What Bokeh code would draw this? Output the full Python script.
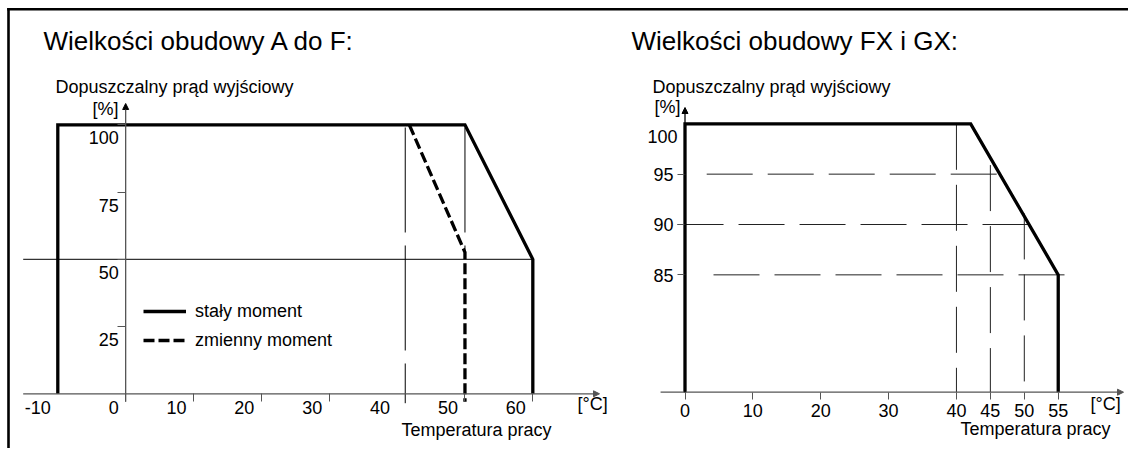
from bokeh.plotting import figure
from bokeh.models import Range1d, LinearAxis, FixedTicker, Arrow, NormalHead, Legend, LegendItem
from bokeh.core.properties import value
from bokeh.embed import file_html
from bokeh.resources import INLINE

# ---------------- data ----------------
# left panel (frame sizes A..F)
left_const_t = [-10, -10, 50, 60, 60]
left_const_i = [0, 100, 100, 50, 0]
left_var_t = [41.8, 50, 50]
left_var_i = [100, 52.6, -3]
left_limit_t = [-15.1, 60]
left_limit_i = [50, 50]
left_guide1_t = [41.2, 41.2]
left_guide1_i = [99, -3.5]
left_guide2_t = [50, 50]
left_guide2_i = [99, 52.6]
left_x_ticks = [-10, 0, 10, 20, 30, 40, 50, 60]
left_tick_marks = [0, 10, 20, 30, 50, 60]
left_y_ticks = [25, 50, 75, 100]

# right panel (frame sizes FX, GX)
right_t = [0, 0, 42.1, 55, 55]
right_i = [0, 100, 100, 85, 0]
right_x_ticks = [0, 10, 20, 30, 40, 45, 50, 55]
right_y_ticks = [85, 90, 95]
right_h_levels = [95, 90, 85]
right_h_start = [3.2, -1.1, 4.2]
right_h_end = [46.5, 51.2, 56.4]
right_v_temps = [40, 45, 50]
right_v_top = [100, 95.9, 91.1]

# ---------------- layout ----------------
W, H = 1128, 448
SX = 6.786          # px per degC
SYL = 2.69          # px per % (left)
SYR = 10.07         # px per % (right, upper part)
FONT = "Liberation Sans"
CORR = {"18px": 6, "26px": 10}   # baseline correction of text glyphs (px)

xs_L = -10 - 57.3 / SX
ys_L = -(H - 393.3) / SYL
xs_R = -684.5 / SX
ys_R = 100 - (H - 123.3) / SYR
BREAK = 100 - (391.7 - 123.3) / SYR   # display level of 0 % on the broken right axis


def disp(v):
    return v if v >= 85 else BREAK + v * (85 - BREAK) / 85


def lx(X):
    return xs_L + X / SX


def ly(Y):
    return ys_L + (H - Y) / SYL


p = figure(width=W, height=H, title=None,
           x_range=Range1d(xs_L, xs_L + W / SX), y_range=Range1d(ys_L, ys_L + H / SYL),
           x_axis_type=None, y_axis_type=None, toolbar_location=None,
           output_backend="svg", min_border=0, outline_line_color=None)
p.extra_x_ranges = {"R": Range1d(xs_R, xs_R + W / SX)}
p.extra_y_ranges = {"R": Range1d(ys_R, ys_R + H / SYR)}
p.background_fill_color = "white"
p.border_fill_color = "white"

AX = "#555555"

# borders of the document frame (top and left edges)
p.segment(x0=[lx(8.0), lx(6.7)], y0=[ly(H + 5), ly(8.7)], x1=[lx(8.0), lx(W + 5)], y1=[ly(7.4), ly(8.7)],
          line_color="black", line_width=2.6)


def tick_axis(kind, ticks, loc, out, rname=None):
    kw = {}
    if rname:
        kw = dict(x_range_name=rname, y_range_name=rname)
    ax = LinearAxis(fixed_location=loc, ticker=FixedTicker(ticks=ticks), major_tick_out=out,
                    major_tick_in=0, axis_line_color=None, major_label_text_color=None,
                    minor_tick_line_color=None, major_tick_line_color=AX, major_tick_line_width=1, **kw)
    p.add_layout(ax, kind)


# ---- left panel ----
p.add_layout(Arrow(x_start=left_limit_t[0], y_start=0, x_end=lx(599), y_end=0,
                   line_color=AX, line_width=1.3,
                   end=NormalHead(size=6, fill_color=AX, line_color=AX)))
p.add_layout(Arrow(x_start=0, y_start=-3, x_end=0, y_end=ly(103),
                   line_color=AX, line_width=1.3,
                   end=NormalHead(size=6, fill_color="black", line_color="black")))
tick_axis("below", left_tick_marks, 0, 8)
tick_axis("left", left_y_ticks, 0, 8)

p.line(left_limit_t, left_limit_i, line_color="black", line_width=1)
p.line(left_guide1_t, left_guide1_i, line_color="black", line_width=1, line_dash="105 13")
p.line(left_guide2_t, left_guide2_i, line_color="black", line_width=1, line_dash="105 13")
r_const = p.line(left_const_t, left_const_i, line_color="black", line_width=3.3, line_join="miter")
r_var = p.line(left_var_t, left_var_i, line_color="black", line_width=3.3, line_dash="11 4",
               line_join="miter")

legend = Legend(items=[LegendItem(label="stały moment", renderers=[r_const]),
                       LegendItem(label="zmienny moment", renderers=[r_var])],
                location=(143, 100 - (453 - H)), glyph_width=43, glyph_height=26, label_height=26,
                label_standoff=9, padding=0, margin=0, spacing=3,
                border_line_color=None, background_fill_alpha=0,
                label_text_font=FONT, label_text_font_size="18px", label_text_color="black")
p.add_layout(legend)

c18 = CORR["18px"]
txt = dict(text_font=value(FONT), text_font_size="18px", text_color="black")
p.text(x=left_x_ticks, y=[0] * len(left_x_ticks), text=[str(v) for v in left_x_ticks],
       text_align="right", text_baseline="alphabetic", x_offset=-7, y_offset=20 - c18, **txt)
p.text(x=[0] * len(left_y_ticks), y=left_y_ticks, text=[str(v) for v in left_y_ticks],
       text_align="right", text_baseline="alphabetic", x_offset=-7, y_offset=19 - c18, **txt)

# ---- right panel ----
R = dict(x_range_name="R", y_range_name="R")
p.add_layout(Arrow(x_start=-3.6, y_start=BREAK, x_end=xs_R + 1123 / SX, y_end=BREAK,
                   line_color=AX, line_width=1.3,
                   end=NormalHead(size=6, fill_color=AX, line_color=AX), **R))
p.add_layout(Arrow(x_start=0, y_start=BREAK, x_end=0, y_end=100 + (123.3 - 107) / SYR,
                   line_color="black", line_width=1.3,
                   end=NormalHead(size=6, fill_color="black", line_color="black"), **R))
tick_axis("below", right_x_ticks, BREAK, 7, "R")
tick_axis("left", right_y_ticks, 0, 8, "R")

for lev, st, end in zip(right_h_levels, right_h_start, right_h_end):
    p.line([st, end], [lev, lev], line_color="#222222", line_width=1, line_dash="46 15", **R)
for t, top in zip(right_v_temps, right_v_top):
    p.line([t, t], [top, disp(0)], line_color="#222222", line_width=1, line_dash="46 15", **R)

p.line(right_t, [disp(v) for v in right_i], line_color="black", line_width=3.3,
       line_join="miter", **R)

p.text(x=right_x_ticks, y=[disp(0)] * len(right_x_ticks), text=[str(v) for v in right_x_ticks],
       text_align="center", text_baseline="alphabetic", y_offset=24.5 - c18, **txt, **R)
p.text(x=[0] * len(right_y_ticks), y=right_y_ticks, text=[str(v) for v in right_y_ticks],
       text_align="right", text_baseline="alphabetic", x_offset=-11.5, y_offset=6.4 - c18,
       **txt, **R)
p.text(x=[0], y=[100], text=["100"], text_align="right", text_baseline="alphabetic",
       x_offset=-7.5, y_offset=18.7 - c18, **txt, **R)

# ---- free texts (screen-positioned) ----
labels = [
    ("Wielkości obudowy A do F:", 43, 50, "26px", "left"),
    ("Dopuszczalny prąd wyjściowy", 55, 92, "18px", "left"),
    ("[%]", 118, 114, "18px", "right"),
    ("[°C]", 577, 409, "18px", "left"),
    ("Temperatura pracy", 401, 435, "18px", "left"),
    ("Wielkości obudowy FX i GX:", 631, 50, "26px", "left"),
    ("Dopuszczalny prąd wyjściowy", 652, 92, "18px", "left"),
    ("[%]", 680, 112, "18px", "right"),
    ("[°C]", 1090, 409, "18px", "left"),
    ("Temperatura pracy", 960, 434, "18px", "left"),
]
for s, X, Y, fs, al in labels:
    p.text(x=[lx(X)], y=[ly(Y - CORR[fs])], text=[s], text_font=value(FONT), text_font_size=fs,
           text_align=al, text_baseline="alphabetic", text_color="black")

open("out.html", "w").write(file_html(p, INLINE))
